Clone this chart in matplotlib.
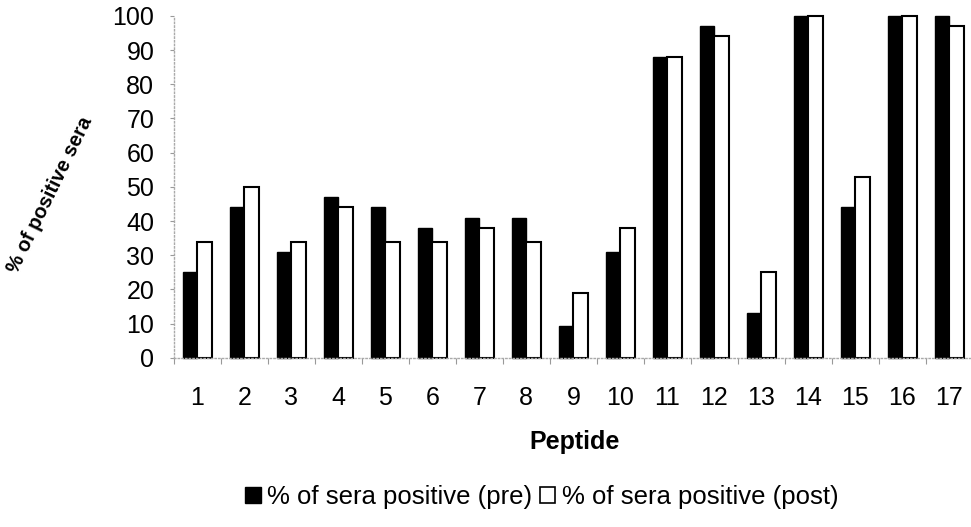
import matplotlib

matplotlib.use("Agg")
import matplotlib.pyplot as plt
import numpy as np
from matplotlib.patches import Patch

plt.rcParams["font.family"] = ["Liberation Sans", "DejaVu Sans"]

peptides = [str(i) for i in range(1, 18)]
pre = [25, 44, 31, 47, 44, 38, 41, 41, 9.4, 31, 88, 97, 13, 100, 44, 100, 100]
post = [34, 50, 34, 44, 34, 34, 38, 34, 19, 38, 88, 94, 25, 100, 53, 100, 97]
yticks = list(range(0, 101, 10))

fig = plt.figure(figsize=(9.71, 5.27), dpi=100)
ax = fig.add_axes([0.179, 0.321, 0.823, 0.649])

x = np.arange(len(peptides))
w = 0.31
ax.bar(x - w / 2, pre, w, color="black", edgecolor="black", linewidth=1, clip_on=False)
ax.bar(x + w / 2, post, w, color="white", edgecolor="black", linewidth=1.5, clip_on=False)

ax.set_xlim(-0.5, len(peptides) - 0.5)
ax.set_ylim(0, 100)
ax.set_yticks(yticks)
ax.tick_params(axis="y", labelsize=18, length=3, color="#999999", pad=11)

# ticks between groups, labels at group centres
ax.set_xticks(np.arange(len(peptides) + 1) - 0.5)
ax.set_xticklabels([])
ax.tick_params(axis="x", which="major", length=4, color="#999999")
ax.set_xticks(x, minor=True)
ax.set_xticklabels(peptides, minor=True)
ax.tick_params(axis="x", which="minor", length=0, labelsize=18, pad=20)

for s in ("top", "right"):
    ax.spines[s].set_visible(False)
for s in ("left", "bottom"):
    ax.spines[s].set_color("#aaaaaa")
    ax.spines[s].set_linestyle(":")
    ax.spines[s].set_linewidth(1)

fig.text(0.0515, 0.63, "% of positive sera", rotation=64, ha="center", va="center",
         fontsize=14.5, fontweight="bold", rotation_mode="anchor")
fig.text(0.592, 0.161, "Peptide", ha="center", va="center", fontsize=18, fontweight="bold")

handles = [
    Patch(facecolor="black", edgecolor="black", label="% of sera positive (pre)"),
    Patch(facecolor="white", edgecolor="black", linewidth=1.2, label="% of sera positive (post)"),
]
fig.legend(handles=handles, loc="center", bbox_to_anchor=(0.558, 0.057), ncol=2,
           frameon=False, fontsize=18.5, handlelength=0.6, handleheight=0.6,
           handletextpad=0.25, columnspacing=0.3)

fig.savefig("out.png", dpi=100)
